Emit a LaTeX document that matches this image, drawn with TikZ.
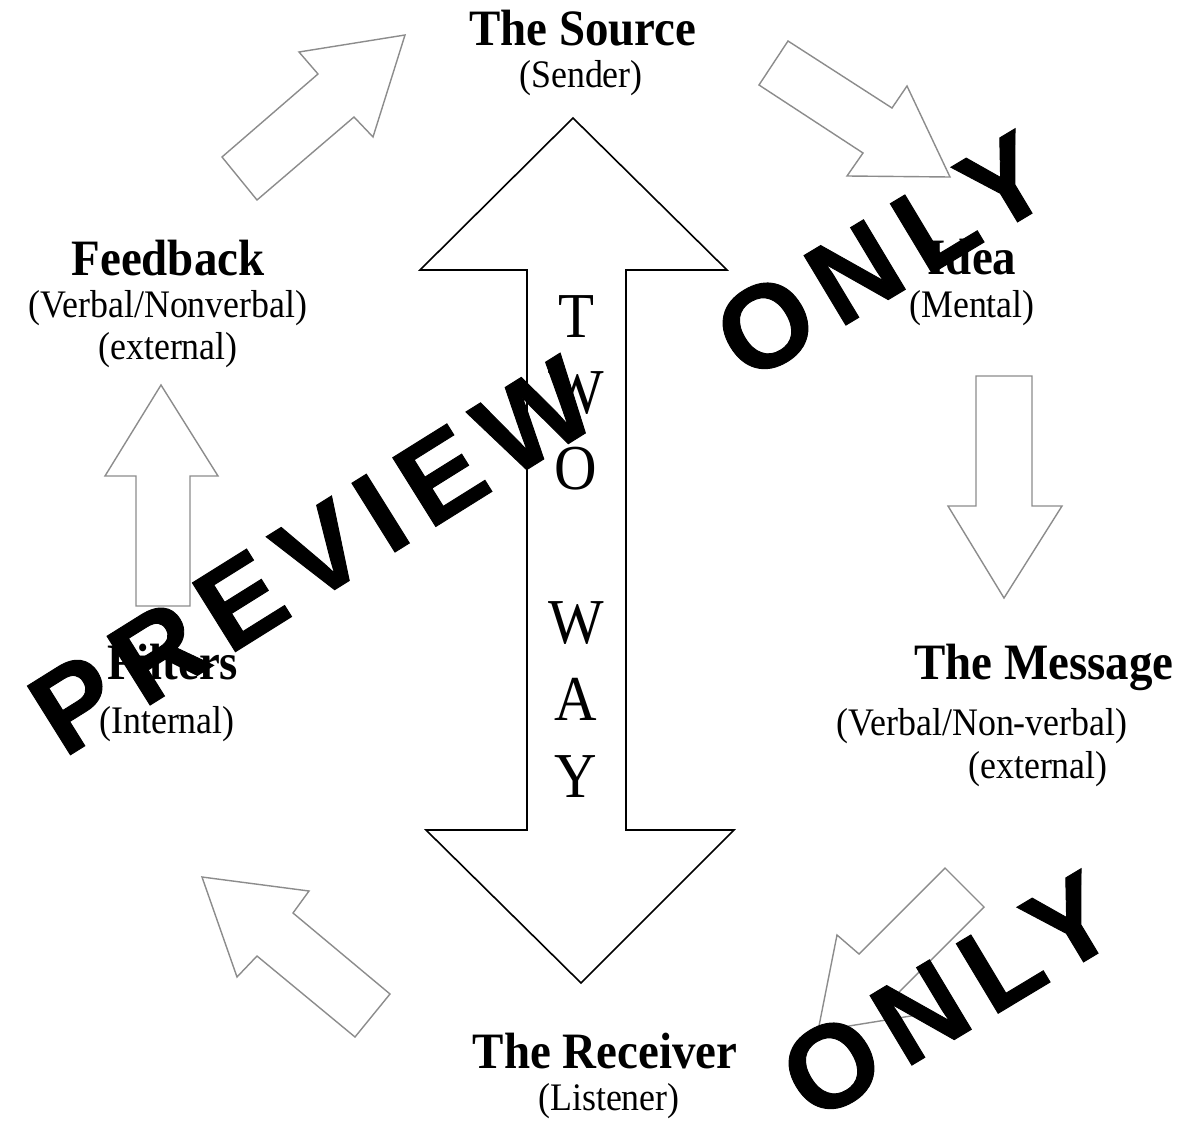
\documentclass[tikz,border=0pt]{standalone}
\usepackage{fontspec}
\setmainfont{Liberation Serif}[FakeStretch=0.92]
\newfontfamily\wmfont{Liberation Sans}[LetterSpace=13, BoldFeatures={FakeBold=0.8}]
\begin{document}
\begin{tikzpicture}[x=1pt,y=-1pt,
  headtxt/.style={font=\bfseries\fontsize{51}{51}\selectfont, anchor=base, inner sep=0pt},
  subtxt/.style={font=\fontsize{39}{39}\selectfont, anchor=base, inner sep=0pt},
  waytxt/.style={font=\fontsize{64}{64}\selectfont, anchor=base, inner sep=0pt},
  grayarrow/.style={draw=black!45, line width=1.4pt, fill=white, line join=miter},
  bigarrow/.style={draw=black, line width=1.6pt, fill=white, line join=miter},
  wmark/.style={font=\wmfont\bfseries\fontsize{118}{118}\selectfont, inner sep=0pt, text=black}]
\useasboundingbox[fill=white] (0,0) rectangle (1181,1121);

% big two-way arrow
\draw[bigarrow] (573,118) -- (727,270) -- (626,270) -- (626,830) -- (734,830)
  -- (581,983) -- (426,830) -- (527,830) -- (527,270) -- (420,270) -- cycle;

% grey block arrows
\draw[grayarrow] (222,157) -- (318,74) -- (299,52) -- (405,35) -- (373,137) -- (354,117) -- (257,200) -- cycle;
\draw[grayarrow] (788,41) -- (892,108) -- (907,86) -- (950,177) -- (847,176) -- (863,153) -- (759,85) -- cycle;
\draw[grayarrow] (202,877) -- (309,891) -- (293,913) -- (390,994) -- (355,1037) -- (257,956) -- (237,977) -- cycle;
\draw[grayarrow] (945,868) -- (984,907) -- (898,993) -- (917,1015) -- (818,1031) -- (837,935) -- (859,954) -- cycle;
\draw[grayarrow] (161,385) -- (218,476) -- (190,476) -- (190,606) -- (136,606) -- (136,476) -- (105,476) -- cycle;
\draw[grayarrow] (976,376) -- (1032,376) -- (1032,506) -- (1062,506) -- (1004,598) -- (948,506) -- (976,506) -- cycle;

% labels
\node[headtxt] (src) at (583,46) {The Source};
\node[subtxt] (srcs) at (581,88) {(Sender)};
\node[headtxt] (fb) at (168,275) {Feedback};
\node[subtxt] (fbs1) at (168,317) {(Verbal/Nonverbal)};
\node[subtxt] (fbs2) at (168,359) {(external)};
\node[headtxt] (idea) at (972,274) {Idea};
\node[subtxt] (ideas) at (972,317) {(Mental)};
\node[headtxt] (msg) at (1044,679) {The Message};
\node[subtxt] (msgs1) at (982,735) {(Verbal/Non-verbal)};
\node[subtxt] (msgs2) at (1038,778) {(external)};
\node[headtxt] (flt) at (173,679) {Filters};
\node[subtxt] (flts) at (167,733) {(Internal)};
\node[headtxt] (rcv) at (605,1068) {The Receiver};
\node[subtxt] (rcvs) at (609,1110) {(Listener)};

% letters in the shaft
\node[waytxt] (w1) at (576,337) {T};
\node[waytxt] (w2) at (576,413) {W};
\node[waytxt] (w3) at (576,489) {O};
\node[waytxt] (w4) at (576,643) {W};
\node[waytxt] (w5) at (576,720) {A};
\node[waytxt] (w6) at (576,797) {Y};

% watermark
\node[wmark, rotate=32] (wm1) at (312,556) {PREVIEW};
\node[wmark, rotate=31] (wm2) at (882,256) {ONLY};
\node[wmark, rotate=31] (wm3) at (948,996) {ONLY};
\end{tikzpicture}
\end{document}
